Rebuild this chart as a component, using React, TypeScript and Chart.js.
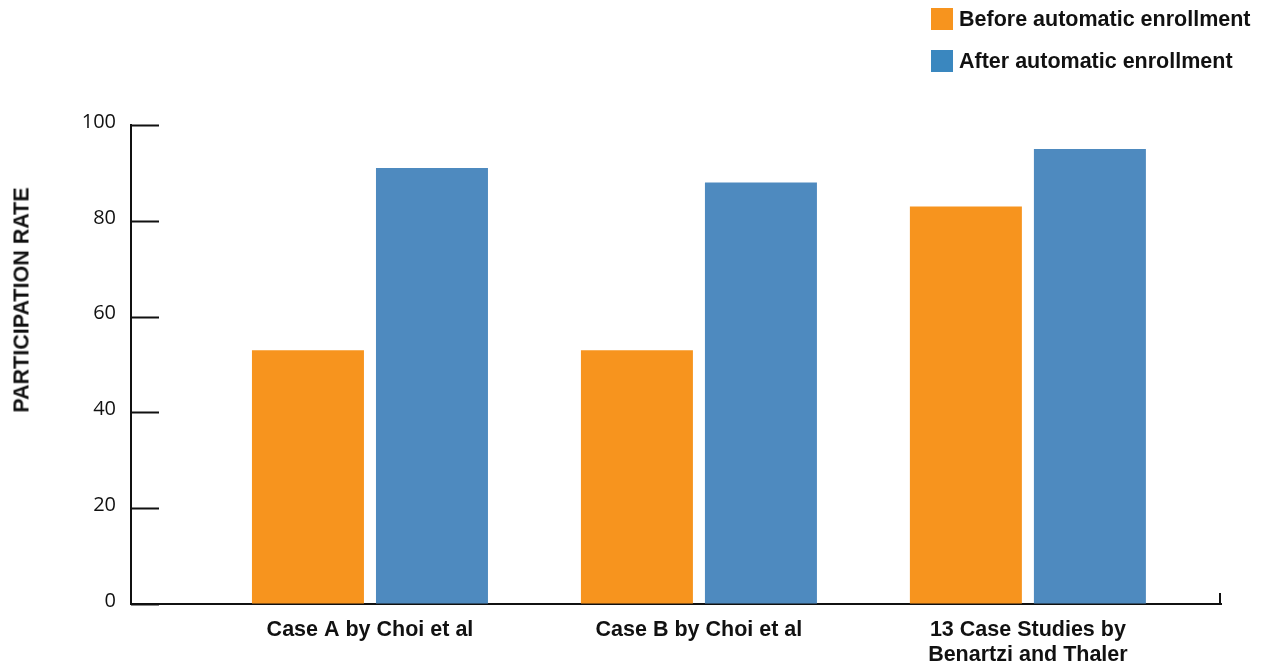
import React, { useEffect, useRef } from "react";
import { Chart, registerables } from "chart.js";

Chart.register(...registerables);

const categories: (string | string[])[] = [
  "Case A by Choi et al",
  "Case B by Choi et al",
  ["13 Case Studies by", "Benartzi and Thaler"],
];
const categoryPositions = [1, 2, 3];
const beforeValues = [53, 53, 83];
const afterValues = [91, 88, 95];
const seriesNames = ["Before automatic enrollment", "After automatic enrollment"];
const yTicks = [0, 20, 40, 60, 80, 100];
const yTitle = "PARTICIPATION RATE";

const ORANGE = "#F7941E";
const BLUE = "#4E8ABF";
const LEGEND_BLUE = "#3A87BF";
const INK = "#111111";
const BOLD_FAMILY = "'Liberation Sans', Arial, Helvetica, sans-serif";

const axisDecor = {
  id: "axisDecor",
  afterDraw(chart: any) {
    const { ctx, chartArea, scales } = chart;
    const y = scales.y;
    ctx.save();
    ctx.strokeStyle = INK;
    ctx.lineWidth = 2;
    ctx.beginPath();
    for (const v of yTicks) {
      const py = Math.round(y.getPixelForValue(v)) + 0.5;
      ctx.moveTo(chartArea.left, py);
      ctx.lineTo(chartArea.left + 28, py);
    }
    ctx.moveTo(chartArea.right - 1, chartArea.bottom);
    ctx.lineTo(chartArea.right - 1, chartArea.bottom - 11);
    ctx.stroke();
    ctx.restore();
  },
};

export default function App() {
  const ref = useRef<HTMLCanvasElement>(null);
  useEffect(() => {
    if (!ref.current) return;
    const chart = new Chart(ref.current, {
      type: "bar",
      data: {
        datasets: [
          {
            label: seriesNames[0],
            data: categoryPositions.map((x, i) => ({ x, y: beforeValues[i] })),
            backgroundColor: ORANGE,
            borderWidth: 0,
          },
          {
            label: seriesNames[1],
            data: categoryPositions.map((x, i) => ({ x, y: afterValues[i] })),
            backgroundColor: BLUE,
            borderWidth: 0,
          },
        ],
      },
      options: {
        animation: false,
        responsive: true,
        maintainAspectRatio: false,
        categoryPercentage: 0.754,
        barPercentage: 0.903,
        layout: { padding: { top: 125, right: 47, left: 0, bottom: 0 } },
        plugins: { legend: { display: false }, tooltip: { enabled: false } },
        scales: {
          x: {
            type: "linear",
            offset: false,
            min: 0.2736,
            max: 3.587,
            afterBuildTicks: (scale: any) => {
              scale.ticks = categoryPositions.map((v) => ({ value: v }));
            },
            afterFit: (scale: any) => {
              scale.height = 64;
            },
            grid: { display: true, drawOnChartArea: false, drawTicks: false },
            border: { display: true, color: INK, width: 2 },
            ticks: {
              autoSkip: false,
              maxRotation: 0,
              padding: 14,
              color: INK,
              font: { family: BOLD_FAMILY, size: 21.5, weight: "bold", lineHeight: "25px" },
              callback: (_v: any, i: number) => categories[i],
            },
          },
          y: {
            min: 0,
            max: 100,
            afterFit: (scale: any) => {
              scale.width = 131;
            },
            grid: { display: true, drawOnChartArea: false, drawTicks: false },
            border: { display: true, color: INK, width: 2 },
            ticks: {
              stepSize: 20,
              padding: 15,
              labelOffset: -3,
              color: INK,
              font: { family: "'Open Sans', sans-serif", size: 20 },
            },
          },
        },
      },
      plugins: [axisDecor],
    } as any);
    return () => chart.destroy();
  }, []);

  const legendColors = [ORANGE, LEGEND_BLUE];

  return (
    <div style={{ position: "fixed", left: 0, top: 0, width: 1268, height: 668, background: "#fff" }}>
      <canvas ref={ref} />
      <div style={{ position: "absolute", left: 931, top: 8 }}>
        {seriesNames.map((n, i) => (
          <div key={n} style={{ display: "flex", alignItems: "center", height: 22, marginBottom: 20 }}>
            <div style={{ width: 22, height: 22, background: legendColors[i], marginRight: 6, flex: "none" }} />
            <span style={{ fontFamily: BOLD_FAMILY, fontWeight: "bold", fontSize: 21.5, color: INK, whiteSpace: "nowrap" }}>{n}</span>
          </div>
        ))}
      </div>
      <div
        style={{
          position: "absolute",
          left: 22,
          top: 300,
          transform: "translate(-50%, -50%) rotate(-90deg)",
          whiteSpace: "nowrap",
          fontFamily: BOLD_FAMILY,
          fontWeight: "bold",
          fontSize: 21.5,
          color: INK,
        }}
      >
        {yTitle}
      </div>
    </div>
  );
}
